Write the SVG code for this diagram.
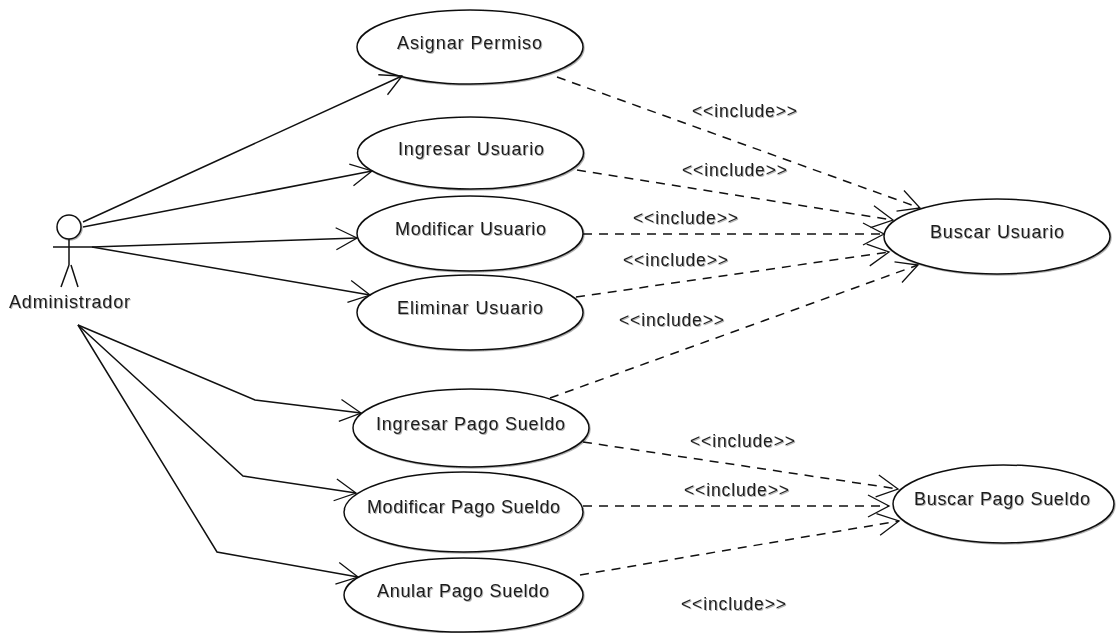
<svg xmlns="http://www.w3.org/2000/svg" width="1118" height="633" viewBox="0 0 1118 633">
<style>
text{font-family:"Liberation Sans",Arial,sans-serif;font-size:18px;fill:#1c1c1c;filter:url(#soft)}
.lb{font-size:17.5px}
.uc{fill:#fff;stroke:#111;stroke-width:1.5;filter:url(#soft)}
.a{fill:none;stroke:#111;stroke-width:1.5}
.d{stroke-dasharray:9 7}
.ah{fill:none;stroke:#111;stroke-width:1.3}
</style>
<defs>
<filter id="soft" x="-5%" y="-15%" width="110%" height="130%"><feDropShadow dx="1" dy="1" stdDeviation="0.7" flood-color="#000" flood-opacity="0.3"/></filter>
<marker id="open" markerUnits="userSpaceOnUse" markerWidth="30" markerHeight="30" viewBox="-25 -15 30 30" refX="0" refY="0" orient="auto"><path class="ah" d="M-21,-11 L0,0 L-21,11"/></marker>
</defs>
<rect width="1118" height="633" fill="#fff"/>
<g id="actor-administrador">
<circle class="uc" cx="69" cy="227" r="12"/>
<path class="a" d="M53,247 H92 M69,239 V265 M69,265 L61,287 M71,265 L78,287"/>
<text x="9" y="308" textLength="121">Administrador</text>
</g>
<g id="uc-asignar-permiso"><ellipse class="uc" cx="470" cy="47" rx="113" ry="37"/><text x="397" y="49" textLength="145">Asignar Permiso</text></g>
<g id="uc-ingresar-usuario"><ellipse class="uc" cx="470.5" cy="153" rx="113" ry="36"/><text x="398" y="155" textLength="146">Ingresar Usuario</text></g>
<g id="uc-modificar-usuario"><ellipse class="uc" cx="470" cy="233.5" rx="113" ry="37.5"/><text x="395" y="235" textLength="151">Modificar Usuario</text></g>
<g id="uc-eliminar-usuario"><ellipse class="uc" cx="470" cy="312.5" rx="113" ry="37.5"/><text x="397" y="314" textLength="146">Eliminar Usuario</text></g>
<g id="uc-ingresar-pago"><ellipse class="uc" cx="471" cy="428" rx="118" ry="39"/><text x="376" y="430" textLength="189">Ingresar Pago Sueldo</text></g>
<g id="uc-modificar-pago"><ellipse class="uc" cx="463.5" cy="512" rx="119.5" ry="40"/><text x="367" y="513" textLength="193">Modificar Pago Sueldo</text></g>
<g id="uc-anular-pago"><ellipse class="uc" cx="463.5" cy="595" rx="119.5" ry="37"/><text x="377" y="597" textLength="172">Anular Pago Sueldo</text></g>
<g id="uc-buscar-usuario"><ellipse class="uc" cx="997" cy="236.5" rx="113" ry="37.5"/><text x="930" y="238" textLength="134">Buscar Usuario</text></g>
<g id="uc-buscar-pago"><ellipse class="uc" cx="1003.5" cy="504" rx="110.5" ry="39"/><text x="914" y="505" textLength="176">Buscar Pago Sueldo</text></g>
<g id="connectors">
<path class="a" d="M83,222 L402,76" marker-end="url(#open)"/>
<path class="a" d="M83,227 L372,171" marker-end="url(#open)"/>
<path class="a" d="M92,247 L357,238" marker-end="url(#open)"/>
<path class="a" d="M92,247 L370,295" marker-end="url(#open)"/>
<path class="a" d="M78,325 L255,400 L361,413" marker-end="url(#open)"/>
<path class="a" d="M78,325 L243,476 L356,493" marker-end="url(#open)"/>
<path class="a" d="M78,325 L217,552 L358,577" marker-end="url(#open)"/>
<path class="a d" d="M557,77 L920,208" marker-end="url(#open)"/>
<path class="a d" d="M577,170 L893,220" marker-end="url(#open)"/>
<path class="a d" d="M583,234 L884,234" marker-end="url(#open)"/>
<path class="a d" d="M576,297 L889,252" marker-end="url(#open)"/>
<path class="a d" d="M550,398 L918,265" marker-end="url(#open)"/>
<path class="a d" d="M583,442 L898,489" marker-end="url(#open)"/>
<path class="a d" d="M583,506 L889,506" marker-end="url(#open)"/>
<path class="a d" d="M580,575 L899,521" marker-end="url(#open)"/>
</g>
<g id="labels">
<text class="lb" x="692" y="117" textLength="105">&lt;&lt;include&gt;&gt;</text>
<text class="lb" x="682" y="176" textLength="105">&lt;&lt;include&gt;&gt;</text>
<text class="lb" x="633" y="224" textLength="105">&lt;&lt;include&gt;&gt;</text>
<text class="lb" x="623" y="266" textLength="105">&lt;&lt;include&gt;&gt;</text>
<text class="lb" x="619" y="326" textLength="105">&lt;&lt;include&gt;&gt;</text>
<text class="lb" x="690" y="447" textLength="105">&lt;&lt;include&gt;&gt;</text>
<text class="lb" x="684" y="496" textLength="105">&lt;&lt;include&gt;&gt;</text>
<text class="lb" x="681" y="610" textLength="105">&lt;&lt;include&gt;&gt;</text>
</g>
</svg>
